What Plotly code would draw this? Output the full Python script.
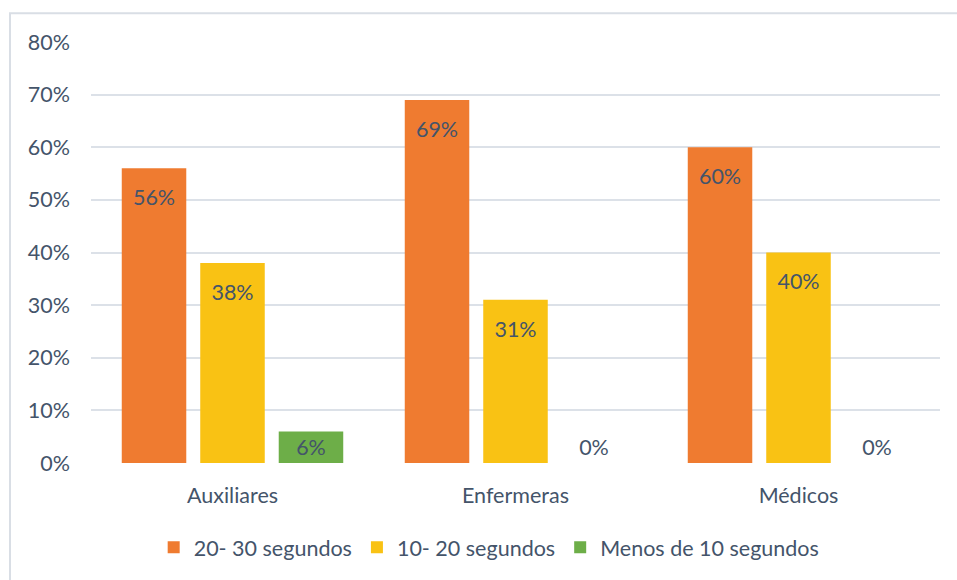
import plotly.graph_objects as go

# Categories and series values (shares of staff by hand-wash duration)
categories = ["Auxiliares", "Enfermeras", "Médicos"]
series_names = ["20- 30 segundos", "10- 20 segundos", "Menos de 10 segundos"]
values_20_30 = [0.56, 0.69, 0.60]
values_10_20 = [0.38, 0.31, 0.40]
values_lt_10 = [0.06, 0.0, 0.0]
y_ticks = [0.0, 0.1, 0.2, 0.3, 0.4, 0.5, 0.6, 0.7, 0.8]

colors = ["#EF7B30", "#F9C214", "#6DAE48"]
text_color = "#44546A"
grid_color = "#DCE1E8"
font_family = "Lato, 'Open Sans', sans-serif"
font_size = 21.5


def label_layout(vals):
    """Labels sit a little below the bar top; short bars keep them tight, zero bars outside."""
    templates, positions = [], []
    for v in vals:
        if v == 0:
            templates.append("%{y:.0%}")
            positions.append("outside")
        elif v < 0.1:
            templates.append("%{y:.0%}")
            positions.append("inside")
        else:
            templates.append("<span style='font-size:6px'>&nbsp;</span><br>%{y:.0%}")
            positions.append("inside")
    return templates, positions


fig = go.Figure()
for name, vals, col in zip(series_names, [values_20_30, values_10_20, values_lt_10], colors):
    tmpl, pos = label_layout(vals)
    fig.add_trace(go.Bar(
        x=categories,
        y=vals,
        name=name,
        marker=dict(color=col, line=dict(width=0)),
        texttemplate=tmpl,
        textposition=pos,
        insidetextanchor="end",
        textangle=0,
        constraintext="none",
        cliponaxis=False,
        textfont=dict(family=font_family, size=font_size, color=text_color),
        outsidetextfont=dict(family=font_family, size=font_size, color=text_color),
        insidetextfont=dict(family=font_family, size=font_size, color=text_color),
    ))

fig.update_layout(
    width=957,
    height=580,
    margin=dict(l=91, r=17, t=42, b=115),
    paper_bgcolor="white",
    plot_bgcolor="white",
    barmode="group",
    bargap=0.168,
    bargroupgap=0.178,
    font=dict(family=font_family, size=font_size, color=text_color),
    showlegend=True,
    legend=dict(
        orientation="h",
        x=0.469,
        xanchor="center",
        y=-0.2,
        yanchor="middle",
        font=dict(family=font_family, size=font_size, color=text_color),
        itemwidth=30,
        traceorder="normal",
        bgcolor="rgba(0,0,0,0)",
    ),
    uniformtext=dict(mode=False),
)

fig.update_yaxes(
    range=[0, 0.8],
    tickvals=y_ticks,
    tickformat=".0%",
    showgrid=True,
    gridcolor=grid_color,
    gridwidth=1.5,
    zeroline=False,
    showline=False,
    ticks="",
    ticklabelstandoff=20,
    tickfont=dict(family=font_family, size=font_size, color=text_color),
)
fig.update_xaxes(
    showgrid=False,
    showline=False,
    zeroline=False,
    ticks="",
    ticklabelstandoff=17,
    tickfont=dict(family=font_family, size=font_size, color=text_color),
)

# Light outline around the chart area
fig.add_shape(
    type="rect", xref="paper", yref="paper",
    x0=-81 / 849, x1=1.03, y0=-0.3, y1=1 + 29 / 423,
    line=dict(color="#D9DEE5", width=2),
    fillcolor="rgba(0,0,0,0)",
    layer="below",
)

fig.write_html("out.html")
